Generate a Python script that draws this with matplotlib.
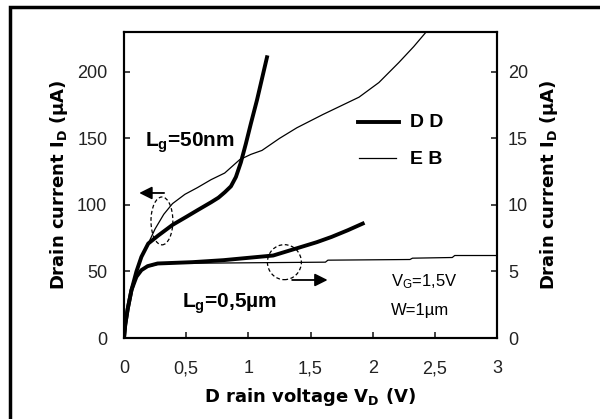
import numpy as np
import matplotlib
matplotlib.use("Agg")
import matplotlib.pyplot as plt
from matplotlib.patches import Ellipse, Rectangle

plt.rcParams['font.family'] = ['Liberation Sans', 'DejaVu Sans']
plt.rcParams['mathtext.default'] = 'regular'

# L_g = 50 nm (left axis, uA)
v_dd50 = [0, 0.01, 0.03, 0.06, 0.1, 0.14, 0.195, 0.275, 0.39, 0.5, 0.59, 0.7, 0.76, 0.81,
          0.86, 0.9, 0.94, 0.98, 1.02, 1.07, 1.11, 1.15]
i_dd50 = [0, 10, 22, 36, 50, 61, 71, 77, 85, 91, 96, 102, 105.5, 109.5,
          114, 121, 132, 146, 161, 179, 195, 211]
v_eb50 = [0, 0.01, 0.03, 0.06, 0.1, 0.14, 0.19, 0.25, 0.32, 0.39, 0.49, 0.59, 0.7, 0.81,
          0.93, 1.02, 1.11, 1.25, 1.39, 1.6, 1.89, 2.05, 2.21, 2.33, 2.43]
i_eb50 = [0, 10, 22, 36, 50, 61, 70, 82, 93, 101, 108, 113, 119, 124,
          134, 138, 141, 150, 158, 168, 181, 192, 207, 219, 230]

# L_g = 0.5 um (right axis, uA)
v_dd05 = [0, 0.01, 0.03, 0.06, 0.1, 0.14, 0.19, 0.27, 0.55, 0.8, 0.97, 1.2, 1.41,
          1.55, 1.67, 1.8, 1.92]
i_dd05 = [0, 1.0, 2.2, 3.6, 4.6, 5.1, 5.4, 5.6, 5.7, 5.85, 6.0, 6.2, 6.8,
          7.2, 7.6, 8.1, 8.6]
v_eb05 = [0, 0.01, 0.03, 0.06, 0.1, 0.14, 0.19, 0.3, 1.62, 1.64, 2.3, 2.32, 2.64, 2.66, 3.0]
i_eb05 = [0, 1.0, 2.2, 3.6, 4.6, 5.1, 5.35, 5.6, 5.7, 5.85, 5.9, 6.0, 6.05, 6.2, 6.2]

x_ticks = [0, 0.5, 1, 1.5, 2, 2.5, 3]
x_labels = ['0', '0,5', '1', '1,5', '2', '2,5', '3']
yl_ticks = [0, 50, 100, 150, 200]
yr_ticks = [0, 5, 10, 15, 20]

fig = plt.figure(figsize=(6, 4.19), dpi=100)
ax = fig.add_axes([124/600, 1-338/419, 373/600, 306/419])
ax2 = ax.twinx()

# outer frame (only top/left visible in the picture)
fig.patches.append(Rectangle((10/600, -0.2), 1.2, 1-7/419+0.2, transform=fig.transFigure,
                             fill=False, lw=2.5, ec='black'))

ax.plot(v_dd50, i_dd50, color='black', lw=2.8)
ax.plot(v_eb50, i_eb50, color='black', lw=0.9)
ax2.plot(v_dd05, i_dd05, color='black', lw=2.8)
ax2.plot(v_eb05, i_eb05, color='black', lw=0.9)

ax.set_xlim(0, 3)
ax.set_ylim(0, 230)
ax2.set_ylim(0, 23)
ax.set_xticks(x_ticks)
ax.set_xticklabels(x_labels)
ax.set_yticks(yl_ticks)
ax2.set_yticks(yr_ticks)
for a in (ax, ax2):
    for s in a.spines.values():
        s.set_linewidth(1.5)
ax.tick_params(axis='x', direction='in', length=4, width=1.2, pad=16, labelsize=13, colors='#222222')
ax.tick_params(axis='y', direction='in', length=4, width=1.2, pad=12, labelsize=13, colors='#222222')
ax2.tick_params(axis='y', direction='in', length=4, width=1.2, pad=8, labelsize=13, colors='#222222')

lab_font = dict(fontsize=13, fontweight='bold', family=['DejaVu Sans'])
ax.set_xlabel('D rain voltage V$_D$ (V)', labelpad=6, **lab_font)
ax.set_ylabel('Drain current I$_D$ (\u00b5A)', labelpad=5, **lab_font)
ax2.set_ylabel('Drain current I$_D$ (\u00b5A)', labelpad=7, **lab_font)

# annotations
ax.text(0.17, 147, 'L$_g$=50nm', fontsize=15, fontweight='bold', va='center')
ax.text(0.47, 26, 'L$_g$=0,5\u00b5m', fontsize=15, fontweight='bold', va='center')
ax.text(2.15, 42, 'V$_G$=1,5V', fontsize=12, va='center')
ax.text(2.15, 21, 'W=1\u00b5m', fontsize=12, va='center')

# legend drawn by hand
ax.plot([1.88, 2.21], [162, 162], color='black', lw=2.8)
ax.plot([1.89, 2.19], [135, 135], color='black', lw=0.9)
ax.text(2.3, 162, 'D D', fontsize=14, fontweight='bold', va='center')
ax.text(2.3, 134, 'E B', fontsize=14, fontweight='bold', va='center')

ax.add_patch(Ellipse((0.305, 88), 0.176, 36, fill=False, ls=(0, (3, 2)), lw=0.9))
ax.add_patch(Ellipse((1.29, 57), 0.273, 26.3, fill=False, ls=(0, (3, 2)), lw=0.9))
ax.annotate('', xy=(0.1, 109), xytext=(0.345, 109),
            arrowprops=dict(arrowstyle='-|>', color='black', lw=1.3, mutation_scale=19))
ax.annotate('', xy=(1.66, 43.6), xytext=(1.33, 43.6),
            arrowprops=dict(arrowstyle='-|>', color='black', lw=1.3, mutation_scale=19))

fig.savefig('out.png', dpi=100)
